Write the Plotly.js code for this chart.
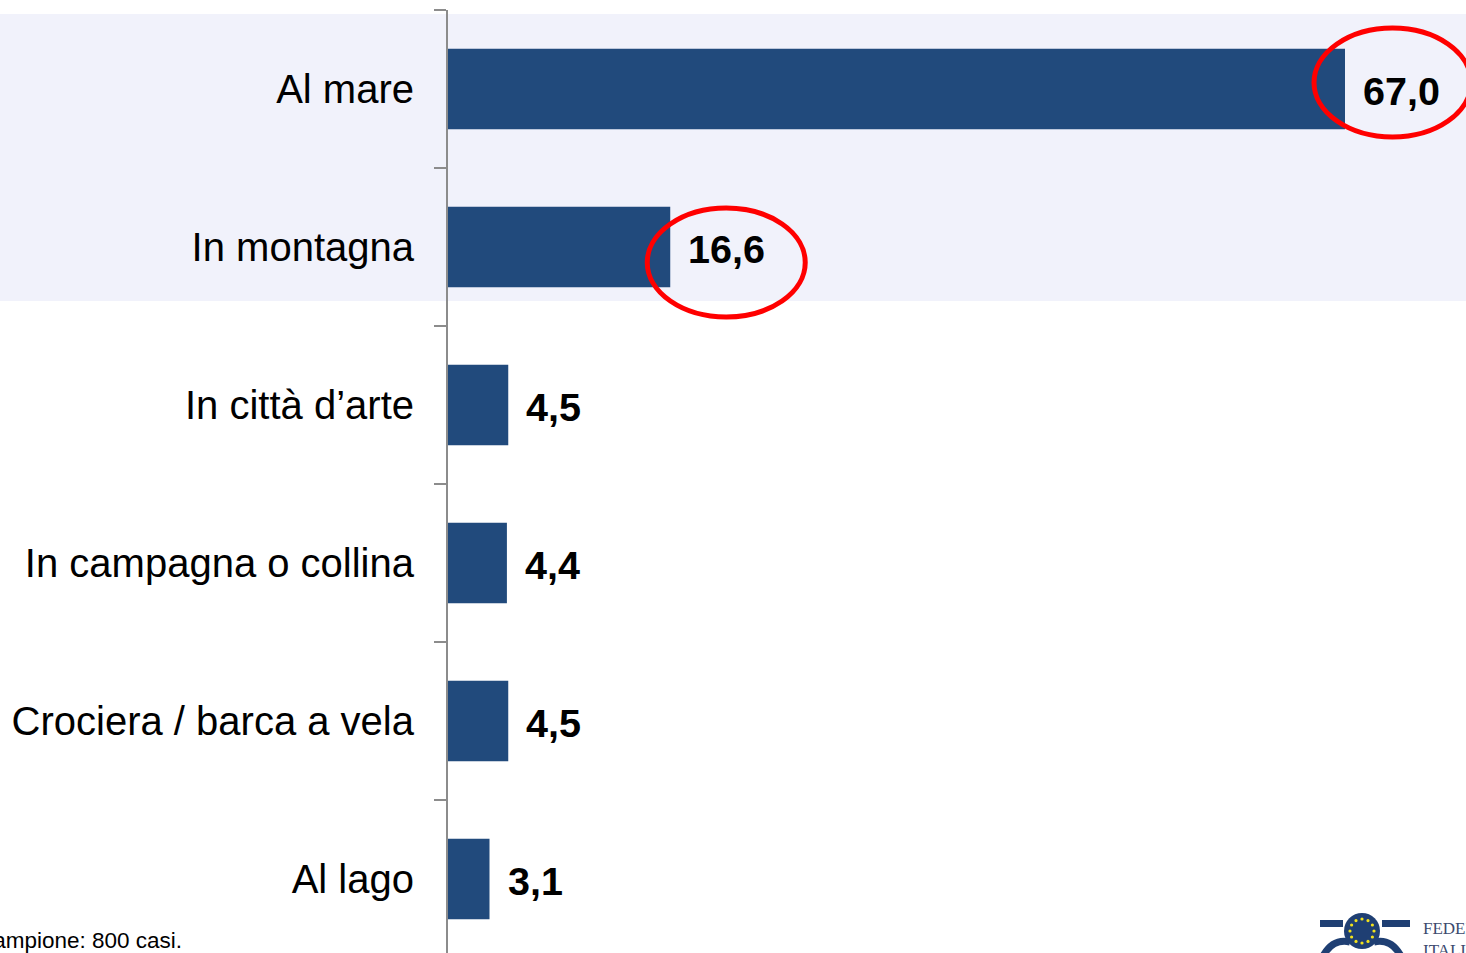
<!DOCTYPE html>
<html>
<head>
<meta charset="utf-8">
<script src="https://cdn.plot.ly/plotly-3.0.1.min.js"></script>
<style>html,body{margin:0;padding:0;background:#fff;}#chart{width:1466px;height:953px;}</style>
</head>
<body>
<div id="chart"></div>
<script>
const categories = ['Al mare', 'In montagna', 'In città d’arte', 'In campagna o collina', 'Crociera / barca a vela', 'Al lago'];
const values = [67.0, 16.6, 4.5, 4.4, 4.5, 3.1];
const valueLabels = ['67,0', '16,6', '4,5', '4,4', '4,5', '3,1'];
const highlighted = [0, 1];
const footnote = 'Campione: 800 casi.';

const W = 1466, H = 953, ML = 448, MT = 10;
const plotW = W - ML, plotH = H - MT;
const px = x => (x - ML) / plotW;
const py = y => (H - y) / plotH;

const bar = {
  type: 'bar', orientation: 'h', y: categories, x: values,
  marker: {color: '#214a7c'}, width: 0.51, hoverinfo: 'none'
};

const annotations = categories.map((c, i) => ({
  x: values[i], y: c, xref: 'x', yref: 'y', xanchor: 'left', yanchor: 'middle',
  xshift: 16, yshift: -2, showarrow: false, text: '<b>' + valueLabels[i] + '</b>',
  font: {family: 'Liberation Sans, Arial, sans-serif', size: 39.5, color: '#000'}
}));
annotations.push({
  xref: 'paper', yref: 'paper', x: px(184), y: py(955), xanchor: 'right', yanchor: 'bottom',
  showarrow: false, text: footnote,
  font: {family: 'Liberation Sans, Arial, sans-serif', size: 22.5, color: '#000'}
});
annotations.push({
  xref: 'paper', yref: 'paper', x: px(1421), y: py(917), xanchor: 'left', yanchor: 'top',
  showarrow: false, align: 'left', text: 'FEDER<br>ITALIA',
  font: {family: 'Liberation Serif, DejaVu Serif, serif', size: 17, color: '#3c4a6e'}
});

const shapes = [];
// highlight band behind the first two categories
shapes.push({
  type: 'rect', layer: 'below', xref: 'paper', yref: 'y',
  x0: px(0), x1: px(W + 5), y0: -0.475, y1: 1.342,
  fillcolor: '#f1f2fb', line: {width: 0}
});
// red ellipses around highlighted labels
const ell = [
  {x0: -31, x1: 126, y0: 61, y1: -48},
  {x0: -23, x1: 135, y0: 39, y1: -70}
];
highlighted.forEach((idx, k) => {
  shapes.push({
    type: 'circle', xref: 'x', yref: 'y', xsizemode: 'pixel', ysizemode: 'pixel',
    xanchor: values[idx], yanchor: idx,
    x0: ell[k].x0, x1: ell[k].x1, y0: ell[k].y0, y1: ell[k].y1,
    line: {color: '#ff0000', width: 5}
  });
});
// logo approximation (bottom right)
const cx = 1362, cy = 931, r = 18;
shapes.push({type: 'rect', xref: 'paper', yref: 'paper', x0: px(1320), x1: px(1343), y0: py(927), y1: py(920), fillcolor: '#1f3f73', line: {width: 0}});
shapes.push({type: 'rect', xref: 'paper', yref: 'paper', x0: px(1382), x1: px(1410), y0: py(927), y1: py(920), fillcolor: '#1f3f73', line: {width: 0}});
shapes.push({type: 'path', xref: 'paper', yref: 'paper',
  path: `M ${px(1323)},${py(956)} Q ${px(1333)},${py(938)} ${px(1350)},${py(942)}`,
  line: {color: '#1f3f73', width: 7}});
shapes.push({type: 'path', xref: 'paper', yref: 'paper',
  path: `M ${px(1401)},${py(956)} Q ${px(1391)},${py(938)} ${px(1374)},${py(942)}`,
  line: {color: '#1f3f73', width: 7}});
shapes.push({type: 'circle', xref: 'paper', yref: 'paper', x0: px(cx - r), x1: px(cx + r), y0: py(cy + r), y1: py(cy - r), fillcolor: '#1f3f73', line: {width: 0}});
for (let k = 0; k < 12; k++) {
  const a = k * Math.PI / 6;
  const sx = cx + 12 * Math.cos(a), sy = cy + 12 * Math.sin(a);
  shapes.push({type: 'circle', xref: 'paper', yref: 'paper', x0: px(sx - 1.6), x1: px(sx + 1.6), y0: py(sy + 1.6), y1: py(sy - 1.6), fillcolor: '#f2e21c', line: {width: 0}});
}

const layout = {
  width: W, height: H,
  margin: {l: ML, r: 0, t: MT, b: 0, pad: 0},
  paper_bgcolor: 'rgba(0,0,0,0)', plot_bgcolor: 'rgba(0,0,0,0)',
  showlegend: false,
  xaxis: {range: [0, plotW / (897 / 67)], visible: false, fixedrange: true},
  yaxis: {
    type: 'category', categoryorder: 'array', categoryarray: categories,
    range: [-0.5 + plotH / 158, -0.5],
    showline: true, linecolor: '#8c8c8c', linewidth: 2,
    ticks: 'outside', ticklen: 12, tickwidth: 2, tickcolor: '#8c8c8c',
    tickson: 'boundaries', showgrid: false, zeroline: false,
    ticklabelstandoff: 24,
    tickfont: {family: 'Liberation Sans, Arial, sans-serif', size: 40, color: '#000'}
  },
  annotations: annotations,
  shapes: shapes
};

Plotly.newPlot('chart', [bar], layout, {displayModeBar: false, staticPlot: true});
</script>
</body>
</html>
